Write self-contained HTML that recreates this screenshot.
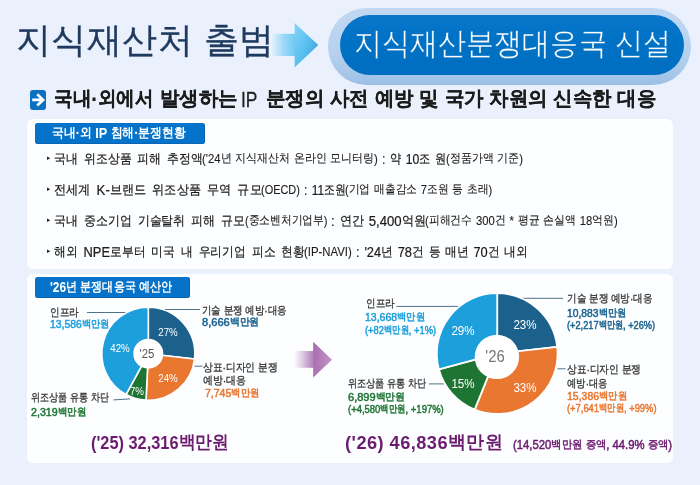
<!DOCTYPE html>
<html lang="ko">
<head>
<meta charset="utf-8">
<title>지식재산처 출범 - 지식재산분쟁대응국 신설</title>
<style>
html,body{margin:0;padding:0}
body{width:700px;height:485px;position:relative;overflow:hidden;background:#eaf1fd;font-family:"Liberation Sans",sans-serif}
.t{position:absolute;white-space:nowrap;z-index:3;transform-origin:0 50%}
.h{font-size:.93em;position:relative;top:-.088em}
.H{position:relative;top:-.0615em}
.b{position:absolute;box-sizing:border-box}
.tx{position:absolute;left:0;top:0;width:700px;height:485px;z-index:3;will-change:transform}
.g{position:absolute;left:0;top:0;z-index:2}
.halo{left:328px;top:7.6px;width:363px;height:77.4px;border-radius:39px;background:linear-gradient(#c1d8f2,#b6d0ee 60%,#a3c4e8 92%,#9bbee5)}
.pill{left:340px;top:15.4px;width:344.3px;height:59.4px;border-radius:30px;background:linear-gradient(#0a76ca,#0072c5 40%,#006ec0)}
.panel{background:#fdfeff;border-radius:6px}
.p1{left:27.2px;top:119.3px;width:645.4px;height:149.7px}
.p2{left:27.4px;top:274px;width:645.2px;height:189.3px}
.lab{background:#0673cb;border-radius:2.5px;border-right:1.5px solid #0a62ad;border-bottom:1px solid #0a66b4}
.l1{left:35.3px;top:123.2px;width:169.8px;height:20.4px}
.l2{left:34.5px;top:276.8px;width:155.3px;height:21.2px}
.ico{left:30.1px;top:90.2px;width:16.4px;height:19.4px;border-radius:3px;background:#0b70c2}
</style>
</head>
<body>
<div class="b halo"></div>
<div class="b pill"></div>
<div class="b ico"></div>
<div class="b panel p1"></div>
<div class="b panel p2"></div>
<div class="b lab l1"></div>
<div class="b lab l2"></div>
<svg class="g" width="700" height="485" viewBox="0 0 700 485">
<defs>
<linearGradient id="ab" x1="0" x2="1" y1="0" y2="0"><stop offset="0" stop-color="#8fd6f7" stop-opacity="0"/><stop offset="0.5" stop-color="#86d2f6" stop-opacity="0.75"/><stop offset="1" stop-color="#6fc9f2"/></linearGradient>
<linearGradient id="ah" x1="0" x2="1" y1="0.1" y2="0.9"><stop offset="0" stop-color="#7fd2f6"/><stop offset="0.55" stop-color="#55bdee"/><stop offset="1" stop-color="#2c9ad6"/></linearGradient>
<linearGradient id="pb" x1="0" x2="1" y1="0" y2="0"><stop offset="0" stop-color="#b98cc0" stop-opacity="0"/><stop offset="1" stop-color="#b07cb7"/></linearGradient>
<linearGradient id="ph" x1="0" x2="1" y1="0" y2="0"><stop offset="0" stop-color="#a96db0"/><stop offset="1" stop-color="#c397c8"/></linearGradient>
</defs>
<!-- header arrow -->
<rect x="271" y="33.8" width="24" height="22.2" fill="url(#ab)"/>
<path d="M294.6 23L318.3 45L294.6 67.4Z" fill="url(#ah)"/>
<!-- subtitle icon arrow -->
<path d="M32.2 99.9H43.5M37.2 94.2L43.1 99.9L37.2 105.5" fill="none" stroke="#fff" stroke-width="2.6" stroke-linejoin="miter"/>
<!-- purple arrow -->
<rect x="294" y="351" width="19.6" height="16.8" fill="url(#pb)"/>
<path d="M313.2 341.8L332 359.7L313.2 377.6Z" fill="url(#ph)"/>
<!-- leaders -->
<g stroke="#4f7389" stroke-width="1" fill="none">
<path d="M87 312.5H128"/><path d="M149.5 309.5H200"/><path d="M194.5 366.2H202.5"/><path d="M113.5 399.9L130 398.9"/>
<path d="M396.5 306.4H459.5"/><path d="M519 298.3H563"/><path d="M557.5 368.8H565.5"/><path d="M429 383.9H444"/>
</g>
<!-- pie 1 -->
<path d="M148.30 353.70L148.30 307.20A46.5 46.5 0 0 1 194.50 359.00Z" fill="#1b618c" stroke="#fff" stroke-width="1.6" stroke-linejoin="round"/>
<path d="M148.30 353.70L194.50 359.00A46.5 46.5 0 0 1 146.01 400.14Z" fill="#e97730" stroke="#fff" stroke-width="1.6" stroke-linejoin="round"/>
<path d="M148.30 353.70L146.01 400.14A46.5 46.5 0 0 1 126.00 394.51Z" fill="#1e7533" stroke="#fff" stroke-width="1.6" stroke-linejoin="round"/>
<path d="M148.30 353.70L126.00 394.51A46.5 46.5 0 0 1 148.30 307.20Z" fill="#1c9fdb" stroke="#fff" stroke-width="1.6" stroke-linejoin="round"/>
<circle cx="148.3" cy="353.7" r="15" fill="#fff"/>
<!-- pie 2 -->
<path d="M497.20 353.60L497.20 293.20A60.4 60.4 0 0 1 557.23 346.92Z" fill="#1b618c" stroke="#fff" stroke-width="1.8" stroke-linejoin="round"/>
<path d="M497.20 353.60L557.23 346.92A60.4 60.4 0 0 1 474.66 409.64Z" fill="#e97730" stroke="#fff" stroke-width="1.8" stroke-linejoin="round"/>
<path d="M497.20 353.60L474.66 409.64A60.4 60.4 0 0 1 438.87 369.29Z" fill="#1e7533" stroke="#fff" stroke-width="1.8" stroke-linejoin="round"/>
<path d="M497.20 353.60L438.87 369.29A60.4 60.4 0 0 1 497.20 293.20Z" fill="#1c9fdb" stroke="#fff" stroke-width="1.8" stroke-linejoin="round"/>
<circle cx="496.9" cy="356.9" r="22.2" fill="#fff"/>
</svg>
<div class="tx">
<span class="t" id="t0" style="top:24.25px;font-size:37.53px;line-height:37.53px;color:#1f3a5e;-webkit-text-stroke:0.35px #1f3a5e;left:16.12px;letter-spacing:0.382px;"><span class="h">지식재산처</span> <span class="h">출범</span></span>
<span class="t" id="t1" style="top:29.64px;font-size:32.8px;line-height:32.8px;color:#fff;-webkit-text-stroke:0.4px #0072c5;left:354.36px;transform:scaleX(0.9055);"><span class="h">지식재산분쟁대응국</span> <span class="h">신설</span></span>
<span class="t" id="t2" style="top:89.94px;font-size:21.51px;line-height:21.51px;color:#1c1c1c;font-weight:bold;-webkit-text-stroke:0.2px #1c1c1c;left:53.92px;transform:scaleX(0.9293);"><span class="h">국내</span>·<span class="h">외에서</span></span>
<span class="t" id="t3" style="top:89.94px;font-size:21.51px;line-height:21.51px;color:#1c1c1c;font-weight:bold;-webkit-text-stroke:0.2px #1c1c1c;left:159.72px;transform:scaleX(0.9712);"><span class="h">발생하는</span></span>
<span class="t" id="t4" style="top:89.94px;font-size:21.51px;line-height:21.51px;color:#1c1c1c;-webkit-text-stroke:0.3px #1c1c1c;left:241.44px;transform:scaleX(0.8078);">IP</span>
<span class="t" id="t5" style="top:89.94px;font-size:21.51px;line-height:21.51px;color:#1c1c1c;font-weight:bold;-webkit-text-stroke:0.2px #1c1c1c;left:266.32px;transform:scaleX(0.9707);"><span class="h">분쟁의</span> <span class="h">사전</span> <span class="h">예방</span> <span class="h">및</span> <span class="h">국가</span> <span class="h">차원의</span> <span class="h">신속한</span> <span class="h">대응</span></span>
<span class="t" id="t6" style="top:126.34px;font-size:13.98px;line-height:13.98px;color:#fff;font-weight:bold;left:52.30px;transform:scaleX(0.9100);"><span class="h">국내</span>·<span class="h">외</span> IP <span class="h">침해</span>·<span class="h">분쟁현황</span></span>
<span class="t" id="t7" style="top:155.42px;font-size:6.5px;line-height:6.5px;color:#222;left:46.54px;transform:scaleX(0.9300);">▸</span>
<span class="t" id="t8" style="top:151.83px;font-size:14.19px;line-height:14.19px;color:#1c1c1c;word-spacing:2.6px;-webkit-text-stroke:0.22px #1c1c1c;left:54.29px;transform:scaleX(0.9163);"><span class="h">국내</span> <span class="h">위조상품</span> <span class="h">피해</span> <span class="h">추정액</span></span>
<span class="t" id="t9" style="top:152.70px;font-size:12.47px;line-height:12.47px;color:#1c1c1c;word-spacing:0.8px;-webkit-text-stroke:0.12px #1c1c1c;left:202.38px;transform:scaleX(0.9095);">('24<span class="h">년</span> <span class="h">지식재산처</span> <span class="h">온라인</span> <span class="h">모니터링</span>)</span>
<span class="t" id="t10" style="top:151.83px;font-size:14.19px;line-height:14.19px;color:#1c1c1c;word-spacing:1.4px;-webkit-text-stroke:0.22px #1c1c1c;left:382.29px;transform:scaleX(0.8603);">: <span class="h">약</span> 10<span class="h">조</span> <span class="h">원</span></span>
<span class="t" id="t11" style="top:152.70px;font-size:12.47px;line-height:12.47px;color:#1c1c1c;word-spacing:0.8px;-webkit-text-stroke:0.12px #1c1c1c;left:445.88px;transform:scaleX(0.9123);">(<span class="h">정품가액</span> <span class="h">기준</span>)</span>
<span class="t" id="t12" style="top:186.42px;font-size:6.5px;line-height:6.5px;color:#222;left:46.54px;transform:scaleX(0.9300);">▸</span>
<span class="t" id="t13" style="top:182.83px;font-size:14.19px;line-height:14.19px;color:#1c1c1c;word-spacing:2.6px;-webkit-text-stroke:0.22px #1c1c1c;left:54.29px;transform:scaleX(0.9341);"><span class="h">전세계</span> K-<span class="h">브랜드</span> <span class="h">위조상품</span> <span class="h">무역</span> <span class="h">규모</span></span>
<span class="t" id="t14" style="top:183.70px;font-size:12.47px;line-height:12.47px;color:#1c1c1c;word-spacing:0.8px;-webkit-text-stroke:0.12px #1c1c1c;left:261.38px;transform:scaleX(0.8763);">(OECD)</span>
<span class="t" id="t15" style="top:182.83px;font-size:14.19px;line-height:14.19px;color:#1c1c1c;word-spacing:1.4px;-webkit-text-stroke:0.22px #1c1c1c;left:303.79px;transform:scaleX(0.8361);">: 11<span class="h">조원</span></span>
<span class="t" id="t16" style="top:183.70px;font-size:12.47px;line-height:12.47px;color:#1c1c1c;word-spacing:0.8px;-webkit-text-stroke:0.12px #1c1c1c;left:344.88px;transform:scaleX(0.8956);">(<span class="h">기업</span> <span class="h">매출감소</span> 7<span class="h">조원</span> <span class="h">등</span> <span class="h">초래</span>)</span>
<span class="t" id="t17" style="top:217.42px;font-size:6.5px;line-height:6.5px;color:#222;left:46.54px;transform:scaleX(0.9300);">▸</span>
<span class="t" id="t18" style="top:213.83px;font-size:14.19px;line-height:14.19px;color:#1c1c1c;word-spacing:2.6px;-webkit-text-stroke:0.22px #1c1c1c;left:54.29px;transform:scaleX(0.9175);"><span class="h">국내</span> <span class="h">중소기업</span> <span class="h">기술탈취</span> <span class="h">피해</span> <span class="h">규모</span></span>
<span class="t" id="t19" style="top:214.70px;font-size:12.47px;line-height:12.47px;color:#1c1c1c;word-spacing:0.8px;-webkit-text-stroke:0.12px #1c1c1c;left:244.58px;transform:scaleX(0.8933);">(<span class="h">중소벤처기업부</span>)</span>
<span class="t" id="t20" style="top:213.83px;font-size:14.19px;line-height:14.19px;color:#1c1c1c;word-spacing:1.4px;-webkit-text-stroke:0.22px #1c1c1c;left:331.29px;transform:scaleX(0.9282);">: <span class="h">연간</span> 5,400<span class="h">억원</span></span>
<span class="t" id="t21" style="top:214.70px;font-size:12.47px;line-height:12.47px;color:#1c1c1c;word-spacing:0.8px;-webkit-text-stroke:0.12px #1c1c1c;left:425.38px;transform:scaleX(0.9037);">(<span class="h">피해건수</span> 300<span class="h">건</span> * <span class="h">평균</span> <span class="h">손실액</span> 18<span class="h">억원</span>)</span>
<span class="t" id="t22" style="top:248.42px;font-size:6.5px;line-height:6.5px;color:#222;left:46.54px;transform:scaleX(0.9300);">▸</span>
<span class="t" id="t23" style="top:244.83px;font-size:14.19px;line-height:14.19px;color:#1c1c1c;word-spacing:2.6px;-webkit-text-stroke:0.22px #1c1c1c;left:54.29px;transform:scaleX(0.9073);"><span class="h">해외</span> NPE<span class="h">로부터</span> <span class="h">미국</span> <span class="h">내</span> <span class="h">우리기업</span> <span class="h">피소</span> <span class="h">현황</span></span>
<span class="t" id="t24" style="top:245.70px;font-size:12.47px;line-height:12.47px;color:#1c1c1c;word-spacing:0.8px;-webkit-text-stroke:0.12px #1c1c1c;left:304.38px;transform:scaleX(0.9111);">(IP-NAVI)</span>
<span class="t" id="t25" style="top:244.83px;font-size:14.19px;line-height:14.19px;color:#1c1c1c;word-spacing:1.4px;-webkit-text-stroke:0.22px #1c1c1c;left:356.29px;transform:scaleX(0.9040);">: '24<span class="h">년</span> 78<span class="h">건</span> <span class="h">등</span> <span class="h">매년</span> 70<span class="h">건</span> <span class="h">내외</span></span>
<span class="t" id="t26" style="top:280.44px;font-size:13.98px;line-height:13.98px;color:#fff;font-weight:bold;left:50.10px;transform:scaleX(0.8500);">'26<span class="h">년</span> <span class="h">분쟁대응국</span> <span class="h">예산안</span></span>
<span class="t" id="t27" style="top:306.64px;font-size:11.61px;line-height:11.61px;color:#333;-webkit-text-stroke:0.3px currentColor;left:50.42px;transform:scaleX(0.8721);"><span class="h">인프라</span></span>
<span class="t" id="t28" style="top:319.30px;font-size:11.29px;line-height:11.29px;color:#1c9fdb;-webkit-text-stroke:0.5px currentColor;left:50.44px;transform:scaleX(0.9230);">13,586<span class="h">백만원</span></span>
<span class="t" id="t29" style="top:304.84px;font-size:11.61px;line-height:11.61px;color:#333;-webkit-text-stroke:0.3px currentColor;left:201.92px;transform:scaleX(0.8600);"><span class="h">기술</span> <span class="h">분쟁</span> <span class="h">예방</span>·<span class="h">대응</span></span>
<span class="t" id="t30" style="top:317.30px;font-size:11.29px;line-height:11.29px;color:#1a6290;-webkit-text-stroke:0.5px currentColor;left:201.94px;transform:scaleX(0.9831);">8,666<span class="h">백만원</span></span>
<span class="t" id="t31" style="top:362.14px;font-size:11.61px;line-height:11.61px;color:#333;-webkit-text-stroke:0.3px currentColor;left:203.42px;transform:scaleX(0.8867);"><span class="h">상표</span>·<span class="h">디자인</span> <span class="h">분쟁</span></span>
<span class="t" id="t32" style="top:375.14px;font-size:11.61px;line-height:11.61px;color:#333;-webkit-text-stroke:0.3px currentColor;left:203.42px;transform:scaleX(0.8998);"><span class="h">예방</span>·<span class="h">대응</span></span>
<span class="t" id="t33" style="top:388.00px;font-size:11.29px;line-height:11.29px;color:#e97730;-webkit-text-stroke:0.5px currentColor;left:204.94px;transform:scaleX(0.9316);">7,745<span class="h">백만원</span></span>
<span class="t" id="t34" style="top:392.14px;font-size:11.61px;line-height:11.61px;color:#333;-webkit-text-stroke:0.3px currentColor;left:31.42px;transform:scaleX(0.8233);"><span class="h">위조상품</span> <span class="h">유통</span> <span class="h">차단</span></span>
<span class="t" id="t35" style="top:406.80px;font-size:11.29px;line-height:11.29px;color:#1e7533;-webkit-text-stroke:0.5px currentColor;left:31.44px;transform:scaleX(0.9453);">2,319<span class="h">백만원</span></span>
<span class="t" id="t36" style="top:434.91px;font-size:17.6px;line-height:17.6px;color:#6c1c70;font-weight:bold;left:91.12px;transform:scaleX(0.9297);">('25) 32,316<span class="H">백만원</span></span>
<span class="t" id="t37" style="top:326.55px;font-size:10.8px;line-height:10.8px;color:#fff;left:127.80px;width:80px;text-align:center;transform-origin:50% 50%;transform:scaleX(0.9);">27%</span>
<span class="t" id="t38" style="top:342.55px;font-size:10.8px;line-height:10.8px;color:#fff;left:79.50px;width:80px;text-align:center;transform-origin:50% 50%;transform:scaleX(0.9);">42%</span>
<span class="t" id="t39" style="top:373.25px;font-size:10.8px;line-height:10.8px;color:#fff;left:127.50px;width:80px;text-align:center;transform-origin:50% 50%;transform:scaleX(0.9);">24%</span>
<span class="t" id="t40" style="top:385.95px;font-size:10.8px;line-height:10.8px;color:#fff;left:96.50px;width:80px;text-align:center;transform-origin:50% 50%;transform:scaleX(0.9);">7%</span>
<span class="t" id="t41" style="top:348.34px;font-size:12px;line-height:12px;color:#555;left:107.20px;width:80px;text-align:center;transform-origin:50% 50%;transform:scaleX(0.95);">'25</span>
<span class="t" id="t42" style="top:297.84px;font-size:11.61px;line-height:11.61px;color:#333;-webkit-text-stroke:0.3px currentColor;left:365.62px;transform:scaleX(0.8661);"><span class="h">인프라</span></span>
<span class="t" id="t43" style="top:311.80px;font-size:11.29px;line-height:11.29px;color:#1c9fdb;-webkit-text-stroke:0.5px currentColor;left:365.44px;transform:scaleX(0.9308);">13,668<span class="h">백만원</span></span>
<span class="t" id="t44" style="top:324.80px;font-size:11.29px;line-height:11.29px;color:#1c9fdb;-webkit-text-stroke:0.5px currentColor;left:365.44px;transform:scaleX(0.8278);">(+82<span class="h">백만원</span>, +1%)</span>
<span class="t" id="t45" style="top:377.84px;font-size:11.61px;line-height:11.61px;color:#333;-webkit-text-stroke:0.3px currentColor;left:348.12px;transform:scaleX(0.8297);"><span class="h">위조상품</span> <span class="h">유통</span> <span class="h">차단</span></span>
<span class="t" id="t46" style="top:392.30px;font-size:11.29px;line-height:11.29px;color:#1e7533;-webkit-text-stroke:0.5px currentColor;left:348.44px;transform:scaleX(0.9797);">6,899<span class="h">백만원</span></span>
<span class="t" id="t47" style="top:404.30px;font-size:11.29px;line-height:11.29px;color:#1e7533;-webkit-text-stroke:0.5px currentColor;left:348.44px;transform:scaleX(0.8396);">(+4,580<span class="h">백만원</span>, +197%)</span>
<span class="t" id="t48" style="top:292.84px;font-size:11.61px;line-height:11.61px;color:#333;-webkit-text-stroke:0.3px currentColor;left:567.42px;transform:scaleX(0.8702);"><span class="h">기술</span> <span class="h">분쟁</span> <span class="h">예방</span>·<span class="h">대응</span></span>
<span class="t" id="t49" style="top:308.00px;font-size:11.29px;line-height:11.29px;color:#1a6290;-webkit-text-stroke:0.5px currentColor;left:567.44px;transform:scaleX(0.9153);">10,883<span class="h">백만원</span></span>
<span class="t" id="t50" style="top:320.30px;font-size:11.29px;line-height:11.29px;color:#1a6290;-webkit-text-stroke:0.5px currentColor;left:567.44px;transform:scaleX(0.8169);">(+2,217<span class="h">백만원</span>, +26%)</span>
<span class="t" id="t51" style="top:364.14px;font-size:11.61px;line-height:11.61px;color:#333;-webkit-text-stroke:0.3px currentColor;left:567.42px;transform:scaleX(0.8808);"><span class="h">상표</span>·<span class="h">디자인</span> <span class="h">분쟁</span></span>
<span class="t" id="t52" style="top:377.64px;font-size:11.61px;line-height:11.61px;color:#333;-webkit-text-stroke:0.3px currentColor;left:567.42px;transform:scaleX(0.8476);"><span class="h">예방</span>·<span class="h">대응</span></span>
<span class="t" id="t53" style="top:390.80px;font-size:11.29px;line-height:11.29px;color:#e97730;-webkit-text-stroke:0.5px currentColor;left:567.44px;transform:scaleX(0.9308);">15,386<span class="h">백만원</span></span>
<span class="t" id="t54" style="top:402.80px;font-size:11.29px;line-height:11.29px;color:#e97730;-webkit-text-stroke:0.5px currentColor;left:567.44px;transform:scaleX(0.8308);">(+7,641<span class="h">백만원</span>, +99%)</span>
<span class="t" id="t55" style="top:434.01px;font-size:18.2px;line-height:18.2px;color:#6c1c70;font-weight:bold;left:345.09px;letter-spacing:0.464px;">('26) 46,836<span class="H">백만원</span></span>
<span class="t" id="t56" style="top:438.92px;font-size:12.04px;line-height:12.04px;color:#6c1c70;-webkit-text-stroke:0.5px currentColor;left:513.40px;transform:scaleX(0.9397);">(14,520<span class="h">백만원</span> <span class="h">증액</span>, 44.9% <span class="h">증액</span>)</span>
<span class="t" id="t57" style="top:317.83px;font-size:13.2px;line-height:13.2px;color:#fff;left:484.50px;width:80px;text-align:center;transform-origin:50% 50%;transform:scaleX(0.88);">23%</span>
<span class="t" id="t58" style="top:324.33px;font-size:13.2px;line-height:13.2px;color:#fff;left:423.00px;width:80px;text-align:center;transform-origin:50% 50%;transform:scaleX(0.88);">29%</span>
<span class="t" id="t59" style="top:377.03px;font-size:13.2px;line-height:13.2px;color:#fff;left:422.50px;width:80px;text-align:center;transform-origin:50% 50%;transform:scaleX(0.88);">15%</span>
<span class="t" id="t60" style="top:381.33px;font-size:13.2px;line-height:13.2px;color:#fff;left:485.00px;width:80px;text-align:center;transform-origin:50% 50%;transform:scaleX(0.88);">33%</span>
<span class="t" id="t61" style="top:348.92px;font-size:16px;line-height:16px;color:#777;left:454.80px;width:80px;text-align:center;transform-origin:50% 50%;transform:scaleX(0.93);">'26</span>
</div>
</body>
</html>
